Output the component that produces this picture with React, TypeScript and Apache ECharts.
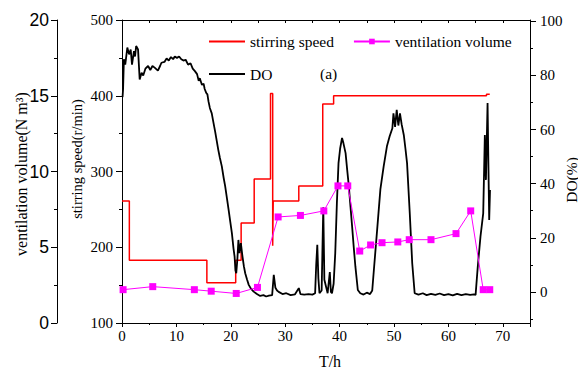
import React, { useEffect, useRef } from 'react';
import * as echarts from 'echarts';

// stirring speed (r/min) step trace: time (h) and value
const speedT = [0, 1.35, 1.35, 15.6, 15.6, 20.9, 20.9, 21.9, 21.9, 24.3, 24.3, 27.3, 27.3, 27.7, 27.7, 27.8, 27.8, 32.5, 32.5, 36.9, 36.9, 38.9, 38.9, 67.0, 67.0, 67.6];
const speedV = [261, 261, 183, 183, 153, 153, 183, 183, 232, 232, 290, 290, 403, 403, 202, 202, 261, 261, 281, 281, 389, 389, 400, 400, 402, 402];

// ventilation volume (N m3)
const ventT = [0.2, 5.65, 13.3, 16.4, 21.0, 24.9, 28.7, 32.8, 37.1, 39.7, 41.5, 43.7, 45.7, 47.8, 50.7, 52.8, 56.8, 61.4, 64.1, 66.4, 67.6];
const ventV = [2.2, 2.4, 2.2, 2.1, 1.95, 2.35, 7.0, 7.1, 7.4, 9.05, 9.05, 4.75, 5.15, 5.3, 5.35, 5.5, 5.5, 5.9, 7.4, 2.2, 2.2];

// DO (%)
const doT = [0.1, 0.2, 0.35, 0.6, 0.98, 1.3, 1.6, 1.84, 2.2, 2.4, 2.6, 2.95, 3.1, 3.25, 3.6, 3.9, 4.3, 4.8, 5.2, 5.6, 6.0, 6.6, 7.0, 7.25, 7.8, 8.2, 8.6, 9.0, 9.4, 9.7, 10.1, 10.5, 10.9, 11.3, 11.7, 12.15, 12.6, 13.0, 13.4, 13.8, 14.1, 14.3, 14.7, 15.0, 15.2, 15.5, 15.7, 15.9, 16.15, 16.5, 16.75, 17.1, 17.4, 17.7, 18.0, 18.35, 18.7, 18.97, 19.3, 19.6, 19.9, 20.2, 20.5, 20.7, 20.85, 21.0, 21.2, 21.4, 21.6, 21.85, 22.15, 22.4, 22.65, 23.0, 23.3, 23.7, 24.2, 24.8, 25.4, 26.0, 26.5, 27.0, 27.6, 27.9, 28.2, 28.5, 28.8, 29.5, 30.2, 31.0, 31.8, 32.5, 32.8, 33.5, 34.3, 35.0, 35.5, 35.7, 35.9, 36.1, 36.3, 36.7, 37.0, 37.2, 37.5, 37.8, 38.2, 38.4, 38.6, 38.9, 39.2, 39.5, 39.8, 40.1, 40.45, 40.7, 41.1, 41.4, 41.7, 42.0, 42.3, 42.6, 42.9, 43.35, 43.8, 44.4, 45.0, 45.6, 46.0, 46.3, 46.9, 47.5, 48.1, 48.7, 49.2, 49.7, 49.9, 50.2, 50.5, 50.8, 51.1, 51.4, 51.8, 52.1, 52.4, 52.9, 53.35, 53.8, 54.5, 55.3, 56.0, 56.8, 57.6, 58.4, 59.2, 60.0, 60.8, 61.6, 62.4, 63.2, 64.0, 64.7, 65.0, 65.4, 65.9, 66.4, 66.7, 66.9, 67.2, 67.35, 67.5, 67.65];
const doV = [72, 75, 86, 84, 90.3, 87.8, 89.6, 84, 89, 87, 90.9, 89.6, 84, 78.5, 81, 80, 82.5, 83.5, 82, 83.5, 82.9, 81.8, 83.5, 84.7, 85, 86.3, 85.5, 86.8, 86, 87, 86.5, 87, 86, 85.5, 85.8, 84, 84.5, 82.5, 81.6, 80.5, 78, 79, 76.5, 77, 75, 73.5, 73, 70.4, 68, 66, 63.2, 59.5, 56, 52.5, 49.5, 46.4, 42, 39, 34.5, 30.3, 26, 21.7, 16, 13, 8, 6.9, 11.8, 19.2, 14.3, 18, 13, 9.5, 6.9, 4.5, 2.6, 1.2, 0.1, -0.8, -1.5, -1.2, -1.7, -1.4, -1.2, 6.3, 1.5, 0.5, 0, -0.8, -0.5, -1.2, -0.9, 1.4, -0.8, -1, -0.8, -1, -0.5, 10, 17.4, 5, -0.5, 0.5, 31.3, 4.5, 2, -0.5, 7.3, 0, -0.5, 3, 14.3, 32.8, 47.6, 53, 56.9, 55, 51.3, 45, 39, 31.5, 24.2, 16.5, 9.4, 0.7, -0.5, -1, -0.3, -0.8, 0.5, 8.1, 22.9, 38, 46.4, 53.8, 57.5, 60.5, 66, 61, 67.3, 61.5, 66, 62, 58, 53, 47.6, 29, 10.6, -0.5, -1, -0.5, -1.2, -0.7, -1.1, -0.6, -1.2, -0.8, -1.3, -0.7, -1.2, -0.8, -1.1, -0.9, -1.1, 9.4, 20.5, 29, 58, 41.4, 69.8, 47.6, 26.6, 37.7];

const doTicks = [0, 20, 40, 60, 80, 100];
const doMinorTicks = [-10, 10, 30, 50, 70, 90];

const SERIF = '"Liberation Serif", "Times New Roman", serif';
const SANS = '"Liberation Sans", Arial, sans-serif';

export default function App() {
  const ref = useRef<HTMLDivElement>(null);
  useEffect(() => {
    const chart = echarts.init(ref.current!, null, { renderer: 'svg' });
    const pair = (t: number[], v: number[]) => t.map((x, i) => [x, v[i]]);
    const black = '#000';
    const serifLabel = { fontFamily: SERIF, fontSize: 15, color: black };
    const legendText = { fontFamily: SERIF, fontSize: 15.5, color: black };
    chart.setOption({
      animation: false,
      backgroundColor: '#fff',
      grid: { left: 122, right: 48, top: 20, bottom: 46, containLabel: false },
      xAxis: [
        {
          type: 'value', position: 'bottom', min: 0, max: 75, interval: 10,
          axisLine: { show: true, onZero: false, lineStyle: { color: black, width: 1 } },
          axisTick: { show: true, inside: false, length: 4, lineStyle: { color: black } },
          minorTick: { show: true, splitNumber: 2, length: 2, lineStyle: { color: black } },
          axisLabel: { ...serifLabel, margin: 5, formatter: (v: number) => (v > 70 ? '' : String(v)) },
          splitLine: { show: false },
        },
        {
          type: 'value', position: 'top', min: 0, max: 75, interval: 5,
          axisLine: { show: true, onZero: false, lineStyle: { color: black, width: 1 } },
          axisTick: { show: true, inside: true, length: 3, lineStyle: { color: black } },
          axisLabel: { show: false },
          splitLine: { show: false },
        },
      ],
      yAxis: [
        {
          type: 'value', position: 'left', offset: 0, min: 100, max: 500, interval: 100,
          axisLine: { show: true, onZero: false, lineStyle: { color: black, width: 1 } },
          axisTick: { show: true, length: 6, lineStyle: { color: black } },
          minorTick: { show: true, splitNumber: 2, length: 3, lineStyle: { color: black } },
          axisLabel: { ...serifLabel, margin: 9 },
          splitLine: { show: false },
        },
        {
          type: 'value', position: 'left', offset: 65, min: 0, max: 20, interval: 5,
          axisLine: { show: true, onZero: false, lineStyle: { color: black, width: 1 } },
          axisTick: { show: true, length: 6, lineStyle: { color: black } },
          minorTick: { show: true, splitNumber: 2, length: 3, lineStyle: { color: black } },
          axisLabel: { fontFamily: SANS, fontSize: 17.5, color: black, margin: 8 },
          splitLine: { show: false },
        },
        {
          type: 'value', position: 'right', offset: 0, min: -11.5, max: 100.5,
          axisLine: { show: true, onZero: false, lineStyle: { color: black, width: 1 } },
          axisTick: { show: true, length: 6, customValues: doTicks, lineStyle: { color: black } },
          axisLabel: { ...serifLabel, margin: 10, customValues: doTicks },
          splitLine: { show: false },
        },
        {
          type: 'value', position: 'right', offset: 0, min: -11.5, max: 100.5,
          axisLine: { show: false, onZero: false },
          axisTick: { show: true, length: 3, customValues: doMinorTicks, lineStyle: { color: black } },
          axisLabel: { show: false },
          splitLine: { show: false },
        },
      ],
      legend: [
        {
          data: [
            { name: 'stirring speed', itemStyle: { opacity: 0 } },
            { name: 'ventilation volume' },
          ],
          left: 208, top: 33.5, itemWidth: 36, itemHeight: 7, itemGap: 19, padding: 0,
          selectedMode: false,
          textStyle: legendText,
        },
        {
          data: [{ name: 'DO', itemStyle: { opacity: 0 } }],
          left: 208, top: 66, itemWidth: 36, itemHeight: 7, padding: 0,
          selectedMode: false,
          textStyle: legendText,
        },
      ],
      series: [
        {
          name: 'stirring speed', type: 'line', xAxisIndex: 0, yAxisIndex: 0,
          data: pair(speedT, speedV), symbol: 'none', color: '#ff0000',
          lineStyle: { color: '#ff0000', width: 1.5 }, z: 2,
        },
        {
          name: 'DO', type: 'line', xAxisIndex: 0, yAxisIndex: 2,
          data: pair(doT, doV), symbol: 'none', color: '#000',
          lineStyle: { color: '#000', width: 1.8 }, z: 3,
        },
        {
          name: 'ventilation volume', type: 'line', xAxisIndex: 0, yAxisIndex: 1,
          data: pair(ventT, ventV), symbol: 'rect', symbolSize: 7, color: '#ff00ff',
          itemStyle: { color: '#ff00ff' },
          lineStyle: { color: '#ff00ff', width: 1 }, z: 4,
        },
      ],
      graphic: {
        elements: [
          { type: 'text', x: 320, y: 73, style: { text: '(a)', font: `15.5px ${SERIF}`, fill: black, textAlign: 'left', textVerticalAlign: 'middle' } },
          { type: 'text', x: 77, y: 159, rotation: Math.PI / 2, style: { text: 'stirring speed(r/min)', font: `14.5px ${SERIF}`, fill: black, textAlign: 'center', textVerticalAlign: 'middle' } },
          { type: 'text', x: 21.5, y: 174, rotation: Math.PI / 2, style: { text: 'ventilation volume(N m³)', font: `16px ${SERIF}`, fill: black, textAlign: 'center', textVerticalAlign: 'middle' } },
          { type: 'text', x: 571, y: 180, rotation: Math.PI / 2, style: { text: 'DO(%)', font: `15.5px ${SERIF}`, fill: black, textAlign: 'center', textVerticalAlign: 'middle' } },
          { type: 'text', x: 330, y: 361, style: { text: 'T/h', font: `16px ${SERIF}`, fill: black, textAlign: 'center', textVerticalAlign: 'middle' } },
        ],
      },
    });
    return () => chart.dispose();
  }, []);
  return <div ref={ref} style={{ position: 'absolute', left: 0, top: 0, width: 578, height: 369 }} />;
}
